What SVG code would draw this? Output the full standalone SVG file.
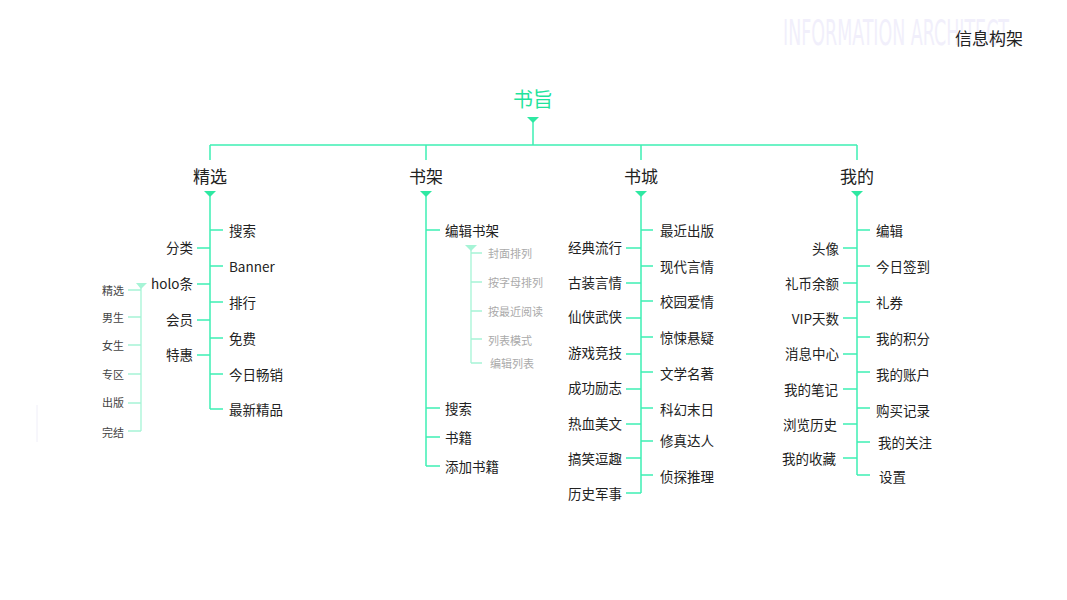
<svg xmlns="http://www.w3.org/2000/svg" width="1067" height="600" viewBox="0 0 1067 600">
<defs>
<style>
.ln{stroke:#3ef0b4;stroke-width:1.5;fill:none}
.ls{stroke:#a6f4d6;stroke-width:1.3;fill:none}
.tri{fill:#2ee8a2}
.tris{fill:#a6f4d6}
text{font-family:"Noto Sans CJK SC","Liberation Sans",sans-serif;dominant-baseline:central}
.leaf{font-size:13.5px;fill:#222}
.hd{font-size:17px;fill:#222}
.sub{font-size:11px;fill:#444}
.subg{font-size:11px;fill:#aaa}
.r{text-anchor:end}
.ttl{font-family:"DejaVu Sans Condensed","Liberation Sans",sans-serif;font-size:35px;fill:#f1effb;dominant-baseline:auto}
</style>
</defs>
<rect width="1067" height="600" fill="#fff"/>
<text x="783" y="45" class="ttl" textLength="226" lengthAdjust="spacingAndGlyphs">INFORMATION ARCHITECT</text>
<text x="989" y="37" class="hd" text-anchor="middle">信息构架</text>
<line x1="37" y1="405" x2="37" y2="442" stroke="#efeef8" stroke-width="1"/>

<g id="connectors">
<path class="tri" d="M527,117 L539,117 L533,123 Z"/>
<path class="ln" d="M533,122 V145 M210,145 H857 M210,145 V160 M426,145 V160 M641,145 V160 M857,145 V160"/>
<path class="tri" d="M204,191 L216,191 L210,197 Z"/>
<path class="tri" d="M420,191 L432,191 L426,197 Z"/>
<path class="tri" d="M635,191 L647,191 L641,197 Z"/>
<path class="tri" d="M851,191 L863,191 L857,197 Z"/>
<path class="ln" d="M210,196 V409 M210,230 H223 M210,266 H223 M210,302 H223 M210,338 H223 M210,374 H223 M210,409 H223 M197,248 H210 M197,284 H210 M197,320 H210 M197,355 H210"/>
<path class="tris" d="M136,283 L147,283 L141,289 Z"/>
<path class="ls" d="M141,288 V431 M128,290 H141 M128,317 H141 M128,345 H141 M128,374 H141 M128,403 H141 M128,431 H141"/>
<path class="ln" d="M426,196 V466 M426,230 H440 M426,408 H440 M426,437 H440 M426,466 H440"/>
<path class="tris" d="M465,245 L477,245 L471,251 Z"/>
<path class="ls" d="M471,250 V363 M471,253 H482 M471,282 H482 M471,311 H482 M471,339 H482 M471,363 H482"/>
<path class="ln" d="M641,196 V493 M641,230 H653 M641,266 H653 M641,301 H653 M641,337 H653 M641,372 H653 M641,408 H653 M641,441 H653 M641,475 H653 M626,248 H641 M626,283 H641 M626,318 H641 M626,354 H641 M626,389 H641 M626,424 H641 M626,458 H641 M626,493 H641"/>
<path class="ln" d="M857,196 V475 M857,230 H870 M857,266 H870 M857,302 H870 M857,337 H870 M857,372 H870 M857,408 H870 M857,442 H870 M857,475 H870 M843,248 H857 M843,283 H857 M843,318 H857 M843,354 H857 M843,389 H857 M843,424 H857 M843,458 H857"/>
</g>

<g id="root"><text x="533" y="98" font-size="20" fill="#1fe39c" text-anchor="middle">书旨</text></g>

<g id="jingxuan">
<text x="210" y="175" class="hd" text-anchor="middle">精选</text>
<text x="229" y="230" class="leaf">搜索</text>
<text x="229" y="266" class="leaf">Banner</text>
<text x="229" y="302" class="leaf">排行</text>
<text x="229" y="338" class="leaf">免费</text>
<text x="229" y="374" class="leaf">今日畅销</text>
<text x="229" y="409" class="leaf">最新精品</text>
<text x="193" y="247" class="leaf r">分类</text>
<text x="193" y="283" class="leaf r">holo条</text>
<text x="193" y="319" class="leaf r">会员</text>
<text x="193" y="354" class="leaf r">特惠</text>
</g>
<g id="holo-sub">
<text x="124" y="290" class="sub r">精选</text>
<text x="124" y="317" class="sub r">男生</text>
<text x="124" y="345" class="sub r">女生</text>
<text x="124" y="374" class="sub r">专区</text>
<text x="124" y="402" class="sub r">出版</text>
<text x="124" y="432" class="sub r">完结</text>
</g>

<g id="shujia">
<text x="426" y="175" class="hd" text-anchor="middle">书架</text>
<text x="445" y="230" class="leaf">编辑书架</text>
<text x="445" y="408" class="leaf">搜索</text>
<text x="445" y="437" class="leaf">书籍</text>
<text x="445" y="466" class="leaf">添加书籍</text>
</g>
<g id="edit-sub">
<text x="488" y="253" class="subg">封面排列</text>
<text x="488" y="282" class="subg">按字母排列</text>
<text x="488" y="311" class="subg">按最近阅读</text>
<text x="488" y="340" class="subg">列表模式</text>
<text x="490" y="363" class="subg">编辑列表</text>
</g>

<g id="shucheng">
<text x="641" y="175" class="hd" text-anchor="middle">书城</text>
<text x="660" y="230" class="leaf">最近出版</text>
<text x="660" y="266" class="leaf">现代言情</text>
<text x="660" y="301" class="leaf">校园爱情</text>
<text x="660" y="337" class="leaf">惊悚悬疑</text>
<text x="660" y="373" class="leaf">文学名著</text>
<text x="660" y="409" class="leaf">科幻末日</text>
<text x="660" y="440" class="leaf">修真达人</text>
<text x="660" y="476" class="leaf">侦探推理</text>
<text x="622" y="247" class="leaf r">经典流行</text>
<text x="622" y="282" class="leaf r">古装言情</text>
<text x="622" y="316" class="leaf r">仙侠武侠</text>
<text x="622" y="352" class="leaf r">游戏竞技</text>
<text x="622" y="387" class="leaf r">成功励志</text>
<text x="622" y="423" class="leaf r">热血美文</text>
<text x="622" y="458" class="leaf r">搞笑逗趣</text>
<text x="622" y="493" class="leaf r">历史军事</text>
</g>

<g id="wode">
<text x="857" y="175" class="hd" text-anchor="middle">我的</text>
<text x="876" y="230" class="leaf">编辑</text>
<text x="876" y="266" class="leaf">今日签到</text>
<text x="876" y="302" class="leaf">礼券</text>
<text x="876" y="338" class="leaf">我的积分</text>
<text x="876" y="374" class="leaf">我的账户</text>
<text x="876" y="410" class="leaf">购买记录</text>
<text x="878" y="442" class="leaf">我的关注</text>
<text x="879" y="476" class="leaf">设置</text>
<text x="839" y="248" class="leaf r">头像</text>
<text x="839" y="283" class="leaf r">礼币余额</text>
<text x="839" y="318" class="leaf r">VIP天数</text>
<text x="839" y="353" class="leaf r">消息中心</text>
<text x="838" y="389" class="leaf r">我的笔记</text>
<text x="837" y="424" class="leaf r">浏览历史</text>
<text x="836" y="458" class="leaf r">我的收藏</text>
</g>
</svg>
